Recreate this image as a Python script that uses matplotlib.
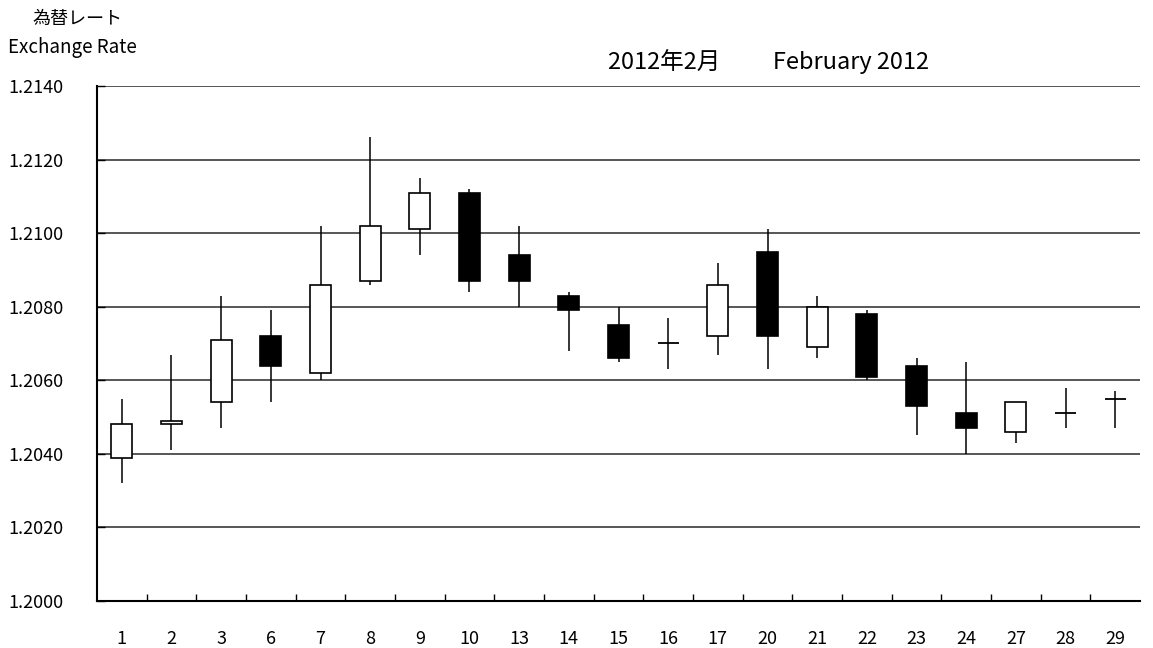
import matplotlib.pyplot as plt
import numpy as np

plt.rcParams['font.family'] = ['Noto Sans CJK JP', 'DejaVu Sans']

# daily OHLC, February 2012
days = ['1', '2', '3', '6', '7', '8', '9', '10', '13', '14', '15',
        '16', '17', '20', '21', '22', '23', '24', '27', '28', '29']
opens = [1.2039, 1.2048, 1.2054, 1.2072, 1.2062, 1.2087, 1.2101, 1.2111,
         1.2094, 1.2083, 1.2075, 1.2070, 1.2072, 1.2095, 1.2069, 1.2078,
         1.2064, 1.2051, 1.2046, 1.2051, 1.2055]
highs = [1.2055, 1.2067, 1.2083, 1.2079, 1.2102, 1.2126, 1.2115, 1.2112,
         1.2102, 1.2084, 1.2080, 1.2077, 1.2092, 1.2101, 1.2083, 1.2079,
         1.2066, 1.2065, 1.2054, 1.2058, 1.2057]
lows = [1.2032, 1.2041, 1.2047, 1.2054, 1.2060, 1.2086, 1.2094, 1.2084,
        1.2080, 1.2068, 1.2065, 1.2063, 1.2067, 1.2063, 1.2066, 1.2060,
        1.2045, 1.2040, 1.2043, 1.2047, 1.2047]
closes = [1.2048, 1.2049, 1.2071, 1.2064, 1.2086, 1.2102, 1.2111, 1.2087,
          1.2087, 1.2079, 1.2066, 1.2070, 1.2086, 1.2072, 1.2080, 1.2061,
          1.2053, 1.2047, 1.2054, 1.2051, 1.2055]
yticks = [1.2000, 1.2020, 1.2040, 1.2060, 1.2080, 1.2100, 1.2120, 1.2140]

o = np.array(opens)
c = np.array(closes)
x = np.arange(len(days))

fig = plt.figure(figsize=(11.53, 6.48), dpi=100)
ax = fig.add_axes([97 / 1153, 47 / 648, 1043 / 1153, 515 / 648])

# grid
for yv in yticks[1:]:
    ax.axhline(yv, color='#3a3a3a', lw=1.2, zorder=1)

# wicks
ax.vlines(x, lows, highs, color='black', lw=1.1, zorder=2)

# bodies
width = 0.42
body = np.abs(c - o)
up = c > o
down = c < o
flat = c == o
ax.bar(x[up], body[up], bottom=o[up], width=width, color='white',
       edgecolor='black', lw=1.2, zorder=3)
ax.bar(x[down], body[down], bottom=c[down], width=width, color='black',
       edgecolor='black', lw=1.2, zorder=3)
ax.hlines(o[flat], x[flat] - width / 2, x[flat] + width / 2,
          color='black', lw=1.3, zorder=3)

ax.set_xlim(-0.5, len(days) - 0.5)
ax.set_ylim(1.2000, 1.2140)

ax.set_xticks(x)
ax.set_xticklabels(days)
ax.set_xticks(np.arange(0.5, len(days) - 1), minor=True)
ax.tick_params(axis='x', which='major', length=0, pad=21, labelsize=13)
ax.tick_params(axis='x', which='minor', length=5, direction='in', width=1)

ax.set_yticks(yticks)
ax.set_yticklabels(['%.4f' % v for v in yticks])
ax.tick_params(axis='y', length=6, direction='in', width=1, pad=64,
               labelsize=13)
for lab in ax.get_yticklabels():
    lab.set_horizontalalignment('left')

for side in ['top', 'right']:
    ax.spines[side].set_visible(False)
ax.spines['left'].set_linewidth(1.5)
ax.spines['bottom'].set_linewidth(1.5)

fig.text(32 / 1153, 1 - 19 / 648, '為替レート', fontsize=13,
         ha='left', va='center')
fig.text(8 / 1153, 1 - 48 / 648, 'Exchange Rate', fontsize=13.5,
         ha='left', va='center')
fig.text(768 / 1153, 1 - 62 / 648, '2012年2月\u3000\u3000 February 2012',
         fontsize=17, ha='center', va='center')

fig.savefig('out.png', dpi=100)
